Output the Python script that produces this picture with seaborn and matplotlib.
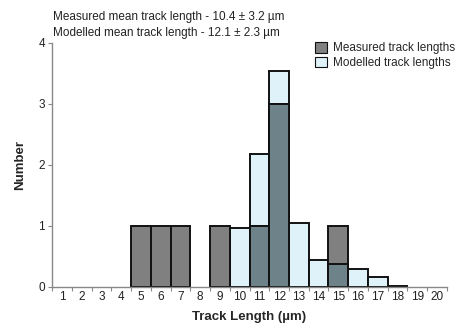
import matplotlib
matplotlib.use("Agg")
import matplotlib.pyplot as plt
import seaborn as sns
import pandas as pd
import numpy as np
from matplotlib.patches import Patch

categories = [str(i) for i in range(1, 21)]
measured = [0, 0, 0, 0, 1, 1, 1, 0, 1, 0, 1, 3, 0, 0, 1, 0, 0, 0, 0, 0]
modelled = [0, 0, 0, 0, 0, 0, 0, 0, 0, 0.97, 2.18, 3.54, 1.05, 0.44, 0.37, 0.30, 0.16, 0.02, 0, 0]
yticks = [0, 1, 2, 3, 4]

sns.set_style("white")
plt.rcParams['font.family'] = ['Liberation Sans', 'DejaVu Sans']

overlap = list(np.minimum(measured, modelled))
df = pd.DataFrame({"cat": categories, "measured": measured,
                   "modelled": modelled, "overlap": overlap})

fig = plt.figure(figsize=(4.57, 3.25), dpi=100)
ax = fig.add_axes([0.114, 0.117, 0.864, 0.751])

ec = "#111111"
lw = 1.4
sns.barplot(data=df, x="cat", y="modelled", order=categories, color="#dff2f9",
            saturation=1, width=1.0, edgecolor=ec, linewidth=lw, ax=ax)
sns.barplot(data=df, x="cat", y="measured", order=categories, color="#808080",
            saturation=1, width=1.0, edgecolor=ec, linewidth=lw, ax=ax)
sns.barplot(data=df, x="cat", y="overlap", order=categories, color="#6e8389",
            saturation=1, width=1.0, edgecolor=ec, linewidth=lw, ax=ax)
for p in ax.patches:
    if p.get_height() == 0:
        p.set_visible(False)

ax.set_xlim(-0.5, 19.5)
ax.set_ylim(0, 4)
ax.set_yticks(yticks)
ax.set_xticks(range(20))
ax.set_xticklabels(categories)
ax.set_xticks(np.arange(-0.5, 20, 1), minor=True)
ax.tick_params(axis="x", which="major", length=0, labelsize=8.5, pad=3, colors="#222222")
ax.tick_params(axis="x", which="minor", length=3, width=0.8, color="#888888", direction="out", bottom=True)
ax.tick_params(axis="y", which="major", length=3, width=0.8, color="#888888", labelsize=8.5,
               direction="out", left=True, labelcolor="#222222", pad=2)
for s in ["top", "right"]:
    ax.spines[s].set_visible(False)
for s in ["left", "bottom"]:
    ax.spines[s].set_color("#888888")
    ax.spines[s].set_linewidth(1.0)

ax.set_xlabel("Track Length (µm)", fontsize=9.5, fontweight="bold", labelpad=6)
ax.set_ylabel("Number", fontsize=9.5, fontweight="bold", labelpad=9)

fig.text(53/457, 1-17/325, "Measured mean track length - 10.4 ± 3.2 µm", fontsize=8.5,
         va="center", ha="left", color="#222222")
fig.text(53/457, 1-33/325, "Modelled mean track length - 12.1 ± 2.3 µm", fontsize=8.5,
         va="center", ha="left", color="#222222")

handles = [Patch(facecolor="#808080", edgecolor=ec, linewidth=0.8, label="Measured track lengths"),
           Patch(facecolor="#dff2f9", edgecolor=ec, linewidth=0.8, label="Modelled track lengths")]
leg = ax.legend(handles=handles, loc="upper left", frameon=False,
                fontsize=8.5, handlelength=1.0, handleheight=1.0, handletextpad=0.5,
                labelspacing=0.2, borderaxespad=0, borderpad=0)
leg.set_bbox_to_anchor((315/457, 1-42/325), transform=fig.transFigure)

fig.savefig("out.png", dpi=100)
